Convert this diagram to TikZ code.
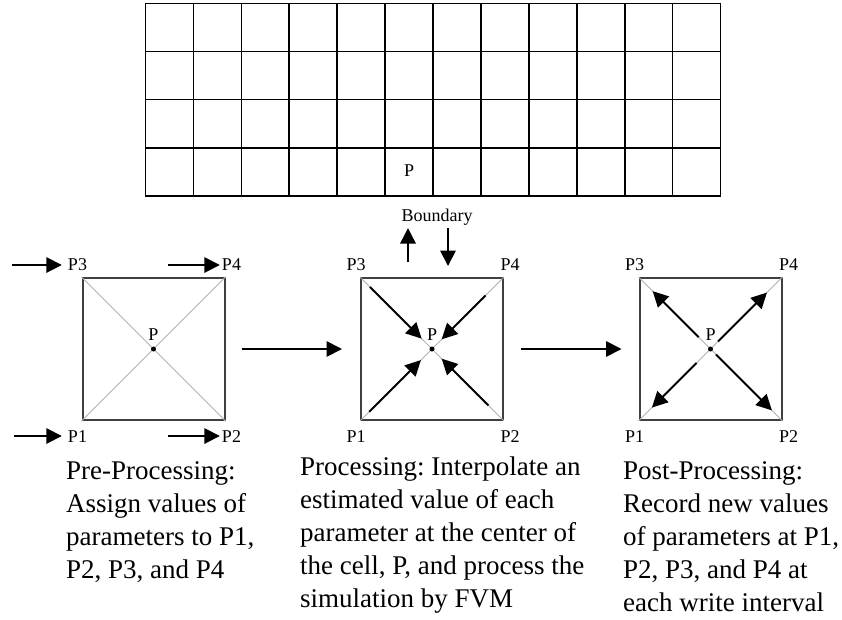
\documentclass[tikz,border=0pt]{standalone}
\usepackage{fontspec}
\setmainfont{Liberation Serif}
\usetikzlibrary{positioning}
\usetikzlibrary{arrows.meta}
\frenchspacing

\tikzset{
  meshline/.style={line width=1.6pt},
  cell/.style={draw=black!75, line width=2pt, minimum size=142pt, inner sep=0},
  diag/.style={draw=black!30, line width=0.8pt},
  flow/.style={-{Triangle[length=15.5pt,width=15.5pt]}, line width=1.8pt},
  centre/.style={circle, fill=black, minimum size=5pt, inner sep=0},
  corner/.style={inner sep=0, font=\fontsize{18}{20}\selectfont},
  caption/.style={inner sep=0, anchor=north west, align=left, font=\fontsize{27}{33}\selectfont},
}

\begin{document}
\begin{tikzpicture}[x=1pt,y=-1pt]
\useasboundingbox (0,0) rectangle (842,619);

\draw[meshline] (145.5,3.3) rectangle (720.5,196);
\foreach \i in {1,...,11}
  \draw[meshline] (145.5+\i*47.92,3.3) -- (145.5+\i*47.92,196);
\foreach \j in {1,2,3}
  \draw[meshline] (145.5,3.3+\j*48.18) -- (720.5,3.3+\j*48.18);
\node[corner] (meshP) at (409,171) {P};

\node[cell] (pre) at (153.5,349) {};
\node[cell] (proc) at (432,349) {};
\node[cell] (post) at (710.5,349) {};

\foreach \sq in {pre,proc,post} {
  \draw[diag] (\sq.north west) -- (\sq.south east);
  \draw[diag] (\sq.south west) -- (\sq.north east);
  \node[centre] (\sq C) at (\sq.center) {};
  \node[corner, above=6pt of \sq C] (\sq P) {P};
  \node[corner, anchor=base] (\sq3) at ([xshift=-4pt,yshift=7pt]\sq.north west) {P3};
  \node[corner, anchor=base] (\sq4) at ([xshift=6pt,yshift=7pt]\sq.north east) {P4};
  \node[corner, anchor=base] (\sq1) at ([xshift=-4pt,yshift=-21pt]\sq.south west) {P1};
  \node[corner, anchor=base] (\sq2) at ([xshift=6pt,yshift=-21pt]\sq.south east) {P2};
}

\coordinate (in3) at (12,265);
\coordinate (in4) at (168,265);
\coordinate (in1) at (14,436);
\coordinate (in2) at (168,436);
\draw[flow, shorten >=6pt] (in3) -- (in3 -| pre3.west);
\draw[flow, shorten >=2pt] (in4) -- (in4 -| pre4.west);
\draw[flow, shorten >=6pt] (in1) -- (in1 -| pre1.west);
\draw[flow, shorten >=2pt] (in2) -- (in2 -| pre2.west);

\draw[flow, shorten <=16pt, shorten >=18pt] (pre.east) -- (proc.west);
\draw[flow, shorten <=17pt, shorten >=17pt] (proc.east) -- (post.west);

\node[corner, anchor=base] (bnd) at (437,221) {Boundary};
\coordinate (bup) at (408,262);
\coordinate (bdown) at (448,266);
\draw[flow, shorten >=3pt] (bup) -- (bup |- bnd.south);
\draw[flow, shorten <=3pt] (bdown |- bnd.south) -- (bdown);

\draw[flow, shorten <=14pt, shorten >=12pt] (proc.north west) -- (procC);
\draw[flow, shorten <=26pt, shorten >=11pt] (proc.north east) -- (procC);
\draw[flow, shorten <=13pt, shorten >=13pt] (proc.south west) -- (procC);
\draw[flow, shorten <=22pt, shorten >=11pt] (proc.south east) -- (procC);

\draw[flow, shorten <=14pt, shorten >=20pt] (postC) -- (post.north west);
\draw[flow, shorten <=8pt, shorten >=22pt] (postC) -- (post.north east);
\draw[flow, shorten <=17pt, shorten >=19pt] (postC) -- (post.south west);
\draw[flow, shorten <=5pt, shorten >=15pt] (postC) -- (post.south east);

\node[caption] (preTxt) at (66,461) {Pre-Processing:\\Assign values of\\parameters to P1,\\P2, P3, and P4};
\node[caption] (procTxt) at (300,457) {Processing: Interpolate an\\estimated value of each\\parameter at the center of\\the cell, P, and process the\\simulation by FVM};
\node[caption] (postTxt) at (623,461) {Post-Processing:\\Record new values\\of parameters at P1,\\P2, P3, and P4 at\\each write interval};
\end{tikzpicture}
\end{document}
